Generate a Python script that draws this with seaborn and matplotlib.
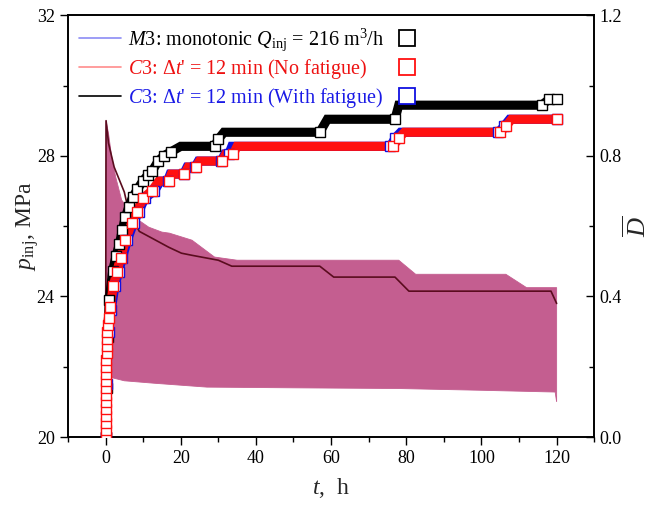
import numpy as np
import pandas as pd
import matplotlib
matplotlib.use("Agg")
import matplotlib.pyplot as plt
import seaborn as sns
from matplotlib.lines import Line2D
from matplotlib.ticker import MultipleLocator, FormatStrFormatter

# ---------------- data ----------------
# cyclic injection pressure band (left axis, MPa)
band_up_t = [0.0, 0.15, 0.8, 1.6, 2.7, 4.3, 7.0, 8.8, 11.5, 15.0, 17.0, 23.0,
             29.0, 35.0, 78.0, 82.5, 106.5, 112.0, 120.0]
band_up_p = [20.2, 29.0, 28.64, 28.0, 27.4, 26.74, 26.37, 26.17, 25.97, 25.83,
             25.8, 25.6, 25.12, 25.03, 25.03, 24.63, 24.63, 24.25, 24.25]
band_lo_t = [0.0, 1.2, 2.0, 5.0, 13.0, 27.0, 50.0, 78.0, 100.0, 119.6, 120.0]
band_lo_p = [20.0, 21.75, 21.68, 21.6, 21.53, 21.42, 21.4, 21.38, 21.33, 21.28, 21.0]

# monotonic pressure line (dark)
line_t = [0.0, 0.15, 0.8, 2.3, 5.0, 6.2, 9.0, 12.3, 16.8, 20.2, 23.0, 30.0,
          33.6, 57.0, 60.7, 77.0, 80.7, 118.5, 120.0]
line_p = [20.1, 29.0, 28.36, 27.68, 26.97, 26.4, 25.85, 25.66, 25.4, 25.23,
          25.17, 25.03, 24.86, 24.86, 24.55, 24.55, 24.15, 24.15, 23.8]

# damage D-bar (right axis)
m3_t = [0.0, 0.3, 0.6, 1.0, 1.9, 2.8, 3.7, 4.5, 5.3, 6.2, 7.2, 8.5, 9.9, 11.2,
        12.5, 14.0, 15.5, 17.5, 20.0, 29.0, 30.0, 31.5, 57.0, 59.0, 77.0, 78.0,
        116.0, 118.0, 120.0]
m3_D = [0.0, 0.14, 0.284, 0.39, 0.472, 0.515, 0.549, 0.59, 0.626, 0.655, 0.682,
        0.705, 0.728, 0.745, 0.758, 0.785, 0.800, 0.812, 0.827, 0.827, 0.847,
        0.867, 0.867, 0.904, 0.904, 0.944, 0.944, 0.961, 0.962]

c3nf_t = [0.0, 0.0, 0.0, 0.05, 0.05, 0.1, 0.1, 0.1, 0.15, 0.2, 0.2, 0.25, 0.3,
          0.35, 0.4, 0.5, 0.6, 0.8, 1.2, 2.1, 3.0, 4.0, 5.3, 7.0, 8.3, 10.0,
          12.3, 14.2, 16.8, 17.5, 21.0, 22.0, 24.0, 25.0, 31.0, 32.0, 34.0,
          35.0, 76.5, 78.0, 79.5, 105.0, 106.5, 108.0, 120.0]
c3nf_D = [0.0, 0.02, 0.04, 0.06, 0.08, 0.10, 0.12, 0.14, 0.16, 0.18, 0.20, 0.22,
          0.24, 0.26, 0.28, 0.30, 0.32, 0.34, 0.37, 0.43, 0.47, 0.51, 0.56, 0.61,
          0.64, 0.68, 0.70, 0.728, 0.728, 0.748, 0.748, 0.768, 0.768, 0.785,
          0.785, 0.805, 0.805, 0.827, 0.827, 0.85, 0.867, 0.867, 0.884, 0.904,
          0.904]

c3f_t = [0.0, 0.3, 0.8, 1.5, 2.5, 3.5, 4.5, 5.8, 7.5, 8.8, 10.5, 13.0, 14.6,
         16.5, 17.2, 20.8, 21.7, 23.8, 24.7, 30.8, 31.7, 32.8, 33.6, 75.8, 77.0,
         78.5, 104.5, 106.0, 107.5, 120.0]
c3f_D = [0.0, 0.15, 0.30, 0.36, 0.43, 0.47, 0.51, 0.56, 0.61, 0.64, 0.68, 0.70,
         0.728, 0.728, 0.748, 0.748, 0.768, 0.768, 0.785, 0.785, 0.805, 0.805,
         0.827, 0.827, 0.85, 0.867, 0.867, 0.884, 0.904, 0.904]

labels = [r"$M$3: monotonic $Q_{\mathrm{inj}}$ = 216 m$^3$/h",
          r"$C$3: Δ$t$' = 12 min (No fatigue)",
          r"$C$3: Δ$t$' = 12 min (With fatigue)"]
label_colors = ["black", "#ee1111", "#1a1ae6"]
line_colors = ["#8c8cf5", "#ff8c8c", "black"]
square_colors = ["black", "#ff1010", "#1010e0"]

# ---------------- style ----------------
sns.set_theme(style="ticks")
plt.rcParams["font.family"] = ["Liberation Serif", "DejaVu Serif"]
plt.rcParams["mathtext.fontset"] = "custom"
plt.rcParams["mathtext.rm"] = "Liberation Serif"
plt.rcParams["mathtext.it"] = "Liberation Serif:italic"
plt.rcParams["mathtext.bf"] = "Liberation Serif:bold"

fig = plt.figure(figsize=(6.53, 5.07), dpi=100)
ax = fig.add_axes([0.104, 0.138, 0.806, 0.832])

band_color = "#c45e90"
poly_t = np.concatenate([band_up_t, band_lo_t[::-1]])
poly_p = np.concatenate([band_up_p, band_lo_p[::-1]])
ax.fill(poly_t, poly_p, color=band_color, lw=0.6, ec=band_color, zorder=1)

df_line = pd.DataFrame({"t": line_t, "p": line_p})
sns.lineplot(data=df_line, x="t", y="p", ax=ax, color="#5a0c1e", lw=1.2,
             estimator=None, sort=False, zorder=3)

ax.set_xlim(-10, 130)
ax.set_ylim(20, 32)
ax.xaxis.set_major_locator(MultipleLocator(20))
ax.xaxis.set_minor_locator(MultipleLocator(10))
ax.yaxis.set_major_locator(MultipleLocator(4))
ax.yaxis.set_minor_locator(MultipleLocator(2))
ax.tick_params(axis="both", which="both", direction="out", colors="black",
               labelsize=13, width=1.0, top=False, right=False)
ax.tick_params(which="major", length=6)
ax.tick_params(which="minor", length=3.5)
ax.set_xlabel(r"$t$,  h", fontsize=17, labelpad=6)
ax.set_ylabel(r"$p_{\mathrm{inj}}$, MPa", fontsize=17, labelpad=-3)

ax2 = ax.twinx()
series = [(m3_t, m3_D, square_colors[0]),
          (c3f_t, c3f_D, square_colors[2]),
          (c3nf_t, c3nf_D, square_colors[1])]
for t, d, c in series:
    # hide the marker at the start of a flat run (covered by later squares)
    show = [i for i in range(len(d)) if i == len(d) - 1 or d[i + 1] != d[i]]
    ax2.plot(t, d, color=c, lw=6.6, solid_joinstyle="miter",
             solid_capstyle="butt", zorder=2)
    ax2.plot(t, d, ls="none", marker="s", ms=6.8, mfc="white", mec=c,
             mew=1.0, markevery=show, zorder=3)
ax2.set_ylim(0, 1.2)
ax2.yaxis.set_major_locator(MultipleLocator(0.4))
ax2.yaxis.set_minor_locator(MultipleLocator(0.2))
ax2.yaxis.set_major_formatter(FormatStrFormatter("%.1f"))
ax2.tick_params(axis="y", which="both", direction="in", colors="black",
                labelsize=13, width=1.0)
ax2.tick_params(which="major", length=6)
ax2.tick_params(which="minor", length=3.5)
ax2.set_ylabel(r"$\overline{D}$", fontsize=19, labelpad=1)

for a in (ax, ax2):
    for s in a.spines.values():
        s.set_linewidth(1.2)
        s.set_color("black")
        s.set_visible(True)

line_handles = [Line2D([], [], color=c, lw=1.2) for c in line_colors]
leg = ax2.legend(line_handles, labels, loc="upper left",
                 bbox_to_anchor=(0.0, 1.0), frameon=False, fontsize=14.5,
                 handlelength=2.1, handletextpad=0.35,
                 labelspacing=0.22, borderaxespad=0.15)
for txt, c in zip(leg.get_texts(), label_colors):
    txt.set_color(c)
ax2.add_artist(leg)

sq_handles = [Line2D([], [], ls="none", marker="s", ms=12, mfc="white",
                     mec=c, mew=1.3) for c in square_colors]
leg2 = ax2.legend(sq_handles, ["", "", ""], loc="upper left",
                  bbox_to_anchor=(0.6255, 0.964), frameon=False, fontsize=14.5,
                  handlelength=1.0, handleheight=1.0, handletextpad=0.0,
                  labelspacing=0.40, borderaxespad=0.0, borderpad=0.0)

fig.savefig("out.png", dpi=100)
